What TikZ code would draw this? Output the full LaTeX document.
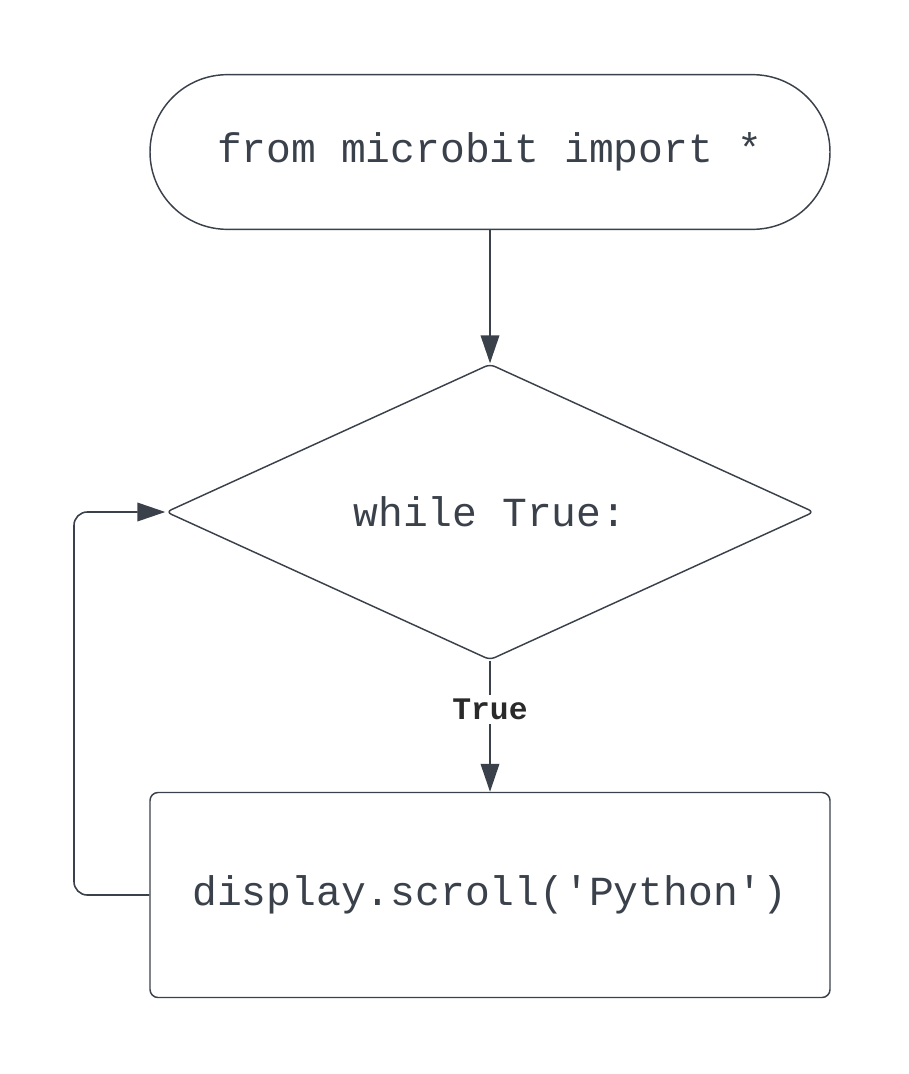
\documentclass[tikz,border=0pt]{standalone}
\usepackage{fontspec}
\setmonofont{Liberation Mono}
\usetikzlibrary{arrows.meta, positioning, calc, shapes.geometric}
\definecolor{flowline}{HTML}{3A414B}
\definecolor{flowlabel}{HTML}{2A2A2A}

\begin{document}
\begin{tikzpicture}[x=0.75pt, y=-0.75pt, font=\ttfamily\fontsize{31}{36}\selectfont,
    every node/.style={text=flowline},
    link/.style={draw=flowline, line width=1.2pt, -{Triangle[length=21pt, width=14pt]}}]
      \useasboundingbox (0,0) rectangle (908,1074);

      \node[draw=flowline, line width=1.1pt, rounded corners=58pt,
        minimum width=510pt, minimum height=116pt] (start) at (490,152)
        {from microbit import *};

      \node[draw=flowline, line width=1.1pt, diamond, aspect=2.2, rounded corners=4pt,
        inner sep=0pt, minimum width=486pt, minimum height=222pt] (loop) at (490,512)
        {while True:};

      \node[draw=flowline, line width=1.1pt, rounded corners=6pt,
        minimum width=510pt, minimum height=153.75pt] (show) at (490,895)
        {display.scroll('Python')};

      \coordinate (back) at (74,895);

      \draw[link] (start.south) -- (loop.north);
      \draw[link] (loop.south) -- node[pos=0.37, fill=white, inner sep=3pt,
        text=flowlabel, font=\ttfamily\bfseries\fontsize{23.5}{28}\selectfont] {True}
        (show.north);
      \draw[link, rounded corners=10pt] (show.west) -- (back) |- (loop.west);
    \end{tikzpicture}
\end{document}
